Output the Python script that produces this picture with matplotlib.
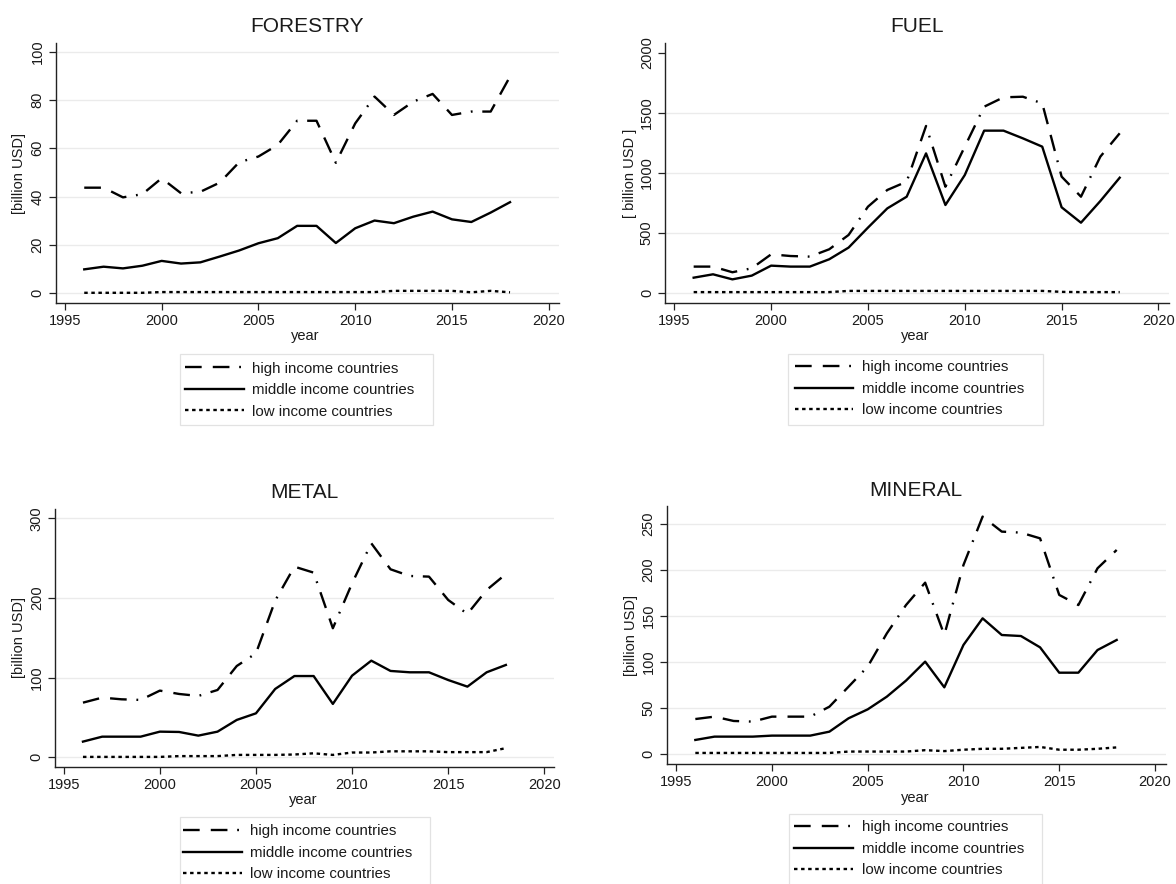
import matplotlib
matplotlib.use("Agg")
import matplotlib.pyplot as plt
from matplotlib.lines import Line2D
from matplotlib.patches import Rectangle

plt.rcParams['font.family'] = ['Liberation Sans', 'DejaVu Sans']
plt.rcParams['lines.scale_dashes'] = False

W, H = 1176, 884
TXT = '#1a1a1a'

years = list(range(1996, 2019))

forestry_high = [43.7, 43.7, 39.7, 41.0, 47.6, 41.4, 42.0, 45.8, 54.2, 56.6, 61.4, 71.4,
                 71.4, 54.0, 70.3, 81.4, 73.8, 79.3, 82.5, 73.8, 75.2, 75.2, 89.7]
forestry_mid = [9.9, 11.0, 10.3, 11.4, 13.4, 12.3, 12.8, 15.2, 17.7, 20.7, 22.8, 27.9,
                27.9, 20.8, 26.9, 30.1, 29.0, 31.7, 33.8, 30.6, 29.5, 33.4, 37.7]
forestry_low = [0.2, 0.2, 0.2, 0.2, 0.5, 0.5, 0.5, 0.5, 0.5, 0.5, 0.5, 0.5,
                0.5, 0.5, 0.5, 0.5, 1.0, 1.0, 1.0, 1.0, 0.4, 1.0, 0.4]

fuel_high = [222, 222, 175, 208, 324, 310, 305, 366, 485, 720, 859, 928,
             1391, 886, 1219, 1551, 1629, 1634, 1579, 970, 803, 1136, 1330]
fuel_mid = [130, 158, 116, 147, 230, 222, 222, 283, 380, 546, 706, 803,
            1163, 734, 983, 1352, 1352, 1288, 1219, 715, 587, 767, 961]
fuel_low = [10, 10, 10, 10, 10, 10, 10, 10, 20, 20, 20, 20,
            20, 20, 20, 20, 20, 20, 20, 12, 10, 10, 10]

metal_high = [68.6, 74.9, 72.8, 72.0, 83.7, 79.5, 77.0, 84.5, 114.6, 130.5, 196.7, 239.3,
              231.8, 162.0, 218.4, 268.6, 236.0, 227.6, 226.8, 197.5, 180.0, 210.0, 230.0]
metal_mid = [19.7, 25.9, 25.9, 25.9, 32.2, 31.8, 27.2, 32.2, 46.9, 55.2, 85.8, 102.0,
             102.0, 67.0, 102.5, 121.3, 108.4, 106.7, 106.7, 97.0, 88.7, 106.7, 115.9]
metal_low = [0.5, 0.5, 0.5, 0.5, 0.5, 1.5, 1.5, 1.5, 3, 3, 3, 3.5,
             5, 3, 6, 6, 7.5, 7.5, 7.5, 6.5, 6.5, 6.5, 11.5]

mineral_high = [38.3, 40.9, 36.2, 35.5, 40.9, 40.9, 40.9, 51.7, 73.4, 95.2, 131.3, 162.0,
                186.3, 129.5, 205.5, 258.0, 241.7, 240.6, 234.4, 173.0, 162.0, 201.9, 221.8]
mineral_mid = [15.6, 19.2, 19.2, 19.2, 20.3, 20.3, 20.3, 24.6, 39.1, 48.8, 62.6, 80.0,
               100.6, 72.7, 118.7, 147.6, 129.5, 128.4, 116.1, 88.6, 88.6, 113.2, 124.1]
mineral_low = [1.5, 1.5, 1.5, 1.5, 1.5, 1.5, 1.5, 1.5, 3, 3, 3, 3,
               4.5, 3.5, 5, 6, 6, 7, 8, 5, 5, 6, 7.5]

labels = ['high income countries', 'middle income countries', 'low income countries']
xticks = [1995, 2000, 2005, 2010, 2015, 2020]

# line styles: long dash - long dash - dot / solid / short dashes
HIGH = dict(color='black', lw=1.7, dashes=(12, 8, 12, 7, 1.3, 7))
MID = dict(color='black', lw=1.7, linestyle='-')
LOW = dict(color='black', lw=1.7, dashes=(2.5, 2.6))

# panel settings: title, data, y ticks, ylabel text, axes box in pixels
# (left, top, right, bottom), x/y limits, title/ylabel/xlabel/legend positions
panels = [
    dict(title='FORESTRY', data=(forestry_high, forestry_mid, forestry_low),
         yticks=[0, 20, 40, 60, 80, 100], grid=[0, 20, 40, 60, 80, 100], ylabel='[billion USD]',
         box=(55.6, 42.7, 559, 302.7), xlim=(1994.52, 2020.53), ylim=(-3.9, 103.7),
         title_xy=(307, 27), ylab_xy=(19.5, 173), xlab_xy=(305, 336),
         leg_xy=(185, 390), frame=(180, 354, 433, 425)),
    dict(title='FUEL', data=(fuel_high, fuel_mid, fuel_low),
         yticks=[0, 500, 1000, 1500, 2000], grid=[0, 500, 1000, 1500], ylabel='[ billion USD ]',
         box=(665, 43.3, 1168.7, 303.3), xlim=(1994.52, 2020.53), ylim=(-83, 2078),
         title_xy=(917, 27), ylab_xy=(630, 173), xlab_xy=(915, 336),
         leg_xy=(795, 389), frame=(788, 354, 1043, 425)),
    dict(title='METAL', data=(metal_high, metal_mid, metal_low),
         yticks=[0, 100, 200, 300], grid=[0, 100, 200, 300], ylabel='[billion USD]',
         box=(54.9, 509.3, 554.3, 766.7), xlim=(1994.54, 2020.52), ylim=(-11.8, 311.3),
         title_xy=(304, 493), ylab_xy=(19.5, 638), xlab_xy=(303, 800),
         leg_xy=(183, 853), frame=(180, 817, 430, 910)),
    dict(title='MINERAL', data=(mineral_high, mineral_mid, mineral_low),
         yticks=[0, 50, 100, 150, 200, 250], grid=[0, 50, 100, 150, 200, 250], ylabel='[billion USD]',
         box=(666.8, 506, 1165.9, 764), xlim=(1994.51, 2020.57), ylim=(-10.5, 269.5),
         title_xy=(916, 490), ylab_xy=(631, 635), xlab_xy=(915, 798),
         leg_xy=(794, 849), frame=(789, 814, 1042, 910)),
]


def fx(px):
    return px / W


def fy(py):
    return 1 - py / H


fig = plt.figure(figsize=(W / 100, H / 100), dpi=100)
fig.patch.set_facecolor('white')

for p in panels:
    l, t, r, b = p['box']
    ax = fig.add_axes([fx(l), fy(b), (r - l) / W, (b - t) / H])
    high, mid, low = p['data']
    ax.plot(years, high, **HIGH)
    ax.plot(years, mid, **MID)
    ax.plot(years, low, **LOW)

    ax.set_xlim(*p['xlim'])
    ax.set_ylim(*p['ylim'])
    ax.set_xticks(xticks)
    ax.set_yticks(p['yticks'])
    for g in p['grid']:
        ax.axhline(g, color='#ebebeb', lw=1.0, zorder=0)

    for s in ['top', 'right']:
        ax.spines[s].set_visible(False)
    for s in ['left', 'bottom']:
        ax.spines[s].set_color('#222222')
        ax.spines[s].set_linewidth(1.0)
    ax.tick_params(direction='out', length=5, width=0.9, color='#222222',
                   labelsize=10.5, labelcolor=TXT, pad=3)
    for lab in ax.get_yticklabels():
        lab.set_rotation(90)
        lab.set_va('center')

    fig.text(fx(p['title_xy'][0]), fy(p['title_xy'][1]), p['title'],
             ha='center', va='center', fontsize=15, color=TXT)
    fig.text(fx(p['ylab_xy'][0]), fy(p['ylab_xy'][1]), p['ylabel'],
             ha='center', va='center', rotation=90, fontsize=10.5, color=TXT)
    fig.text(fx(p['xlab_xy'][0]), fy(p['xlab_xy'][1]), 'year',
             ha='center', va='center', fontsize=10.5, color=TXT)

    fl, ft, fr, fb = p['frame']
    fig.add_artist(Rectangle((fx(fl), fy(fb)), (fr - fl) / W, (fb - ft) / H,
                             transform=fig.transFigure, fill=False,
                             edgecolor='#e2e2e2', lw=0.9))
    handles = [Line2D([], [], **HIGH), Line2D([], [], **MID), Line2D([], [], **LOW)]
    fig.legend(handles, labels, loc='center left',
               bbox_to_anchor=(fx(p['leg_xy'][0]), fy(p['leg_xy'][1])),
               frameon=False, borderpad=0, borderaxespad=0, fontsize=10.8,
               handlelength=3.9, handletextpad=0.6, labelspacing=0.5,
               labelcolor=TXT)

fig.savefig('out.png', dpi=100, facecolor='white')
